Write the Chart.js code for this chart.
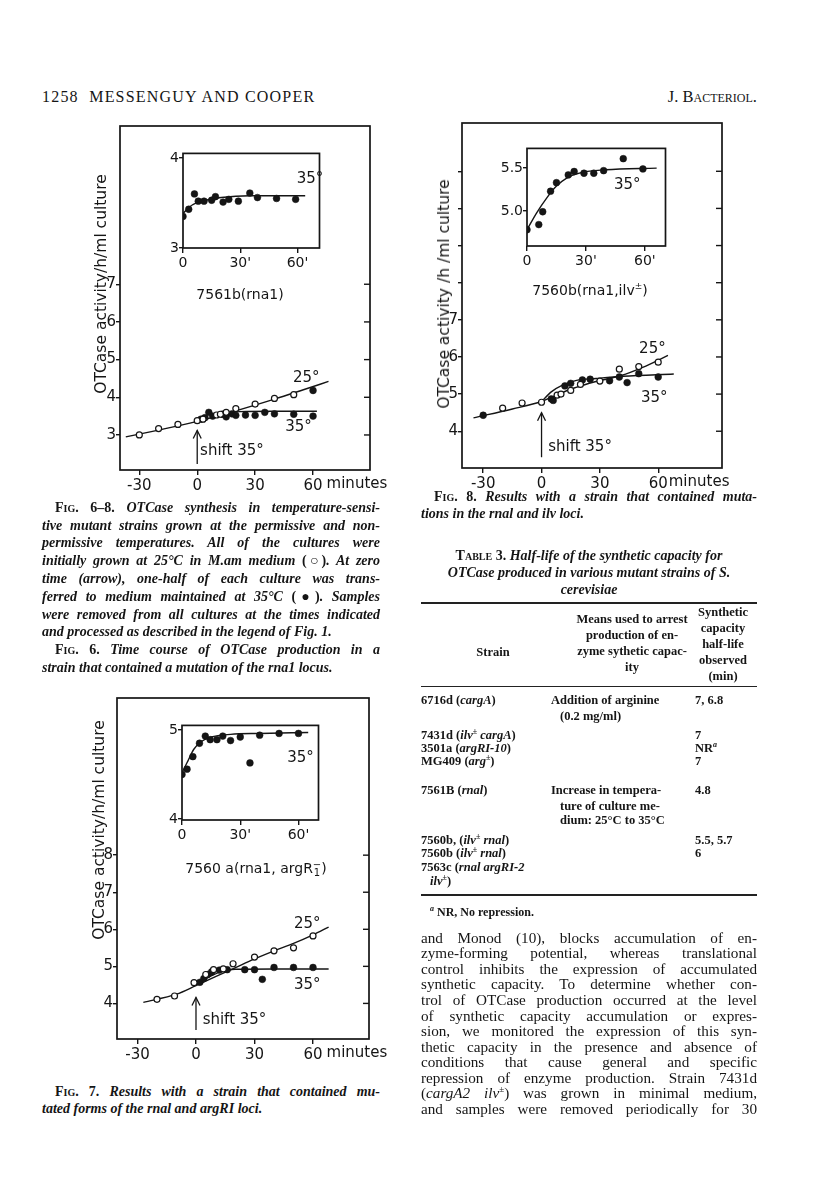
<!DOCTYPE html>
<html>
<head>
<meta charset="utf-8">
<script src="https://cdn.jsdelivr.net/npm/chart.js@4.4.1/dist/chart.umd.min.js"></script>
<style>
  body { margin: 0; background: #fff; }
  #page { position: relative; width: 816px; height: 1203px; overflow: hidden;
          font-family: "Liberation Serif", serif; color: #151515; }
  .ln { position: absolute; height: 16px; line-height: 16px; }
  .j { text-align: justify; text-align-last: justify; }
  .c { text-align: center; }
  .cap { font-style: italic; font-weight: bold; font-size: 14px; }
  .sc { font-variant: small-caps; font-style: normal; }
  .body { font-size: 15.2px; }
  .tb { font-weight: bold; font-size: 12.5px; }
  sup { line-height: 0; font-size: 8px; }
  .rule { position: absolute; left: 421px; width: 336px; background: #222; }
  canvas { position: absolute; }
  .ytitle { position: absolute; font-family: "DejaVu Sans", sans-serif; font-size: 15.5px; white-space: nowrap;
            transform: translate(-50%, -50%) rotate(-90deg); }
  .strain { position: absolute; font-family: "DejaVu Sans", sans-serif; font-size: 14px; white-space: nowrap;
            transform: translate(-50%, -50%); }
  .stk { display: inline-block; vertical-align: middle; line-height: 8px; font-size: 10px; text-align: center; }
</style>
</head>
<body>
<div id="page">

  <!-- running head -->
  <div class="ln" style="left:42px;top:89px;font-size:16px;letter-spacing:1.2px;white-space:nowrap">1258&nbsp;&nbsp;MESSENGUY AND COOPER</div>
  <div class="ln" style="left:557px;width:200px;top:89px;font-size:16.5px;text-align:right"><span class="sc">J. Bacteriol.</span></div>

  <!-- figures -->
  <canvas id="fig6"></canvas>
  <canvas id="fig6in"></canvas>
  <canvas id="fig8"></canvas>
  <canvas id="fig8in"></canvas>
  <canvas id="fig7"></canvas>
  <canvas id="fig7in"></canvas>

  <div class="ytitle" style="left:101px;top:284px">OTCase activity/h/ml culture</div>
  <div class="ytitle" style="left:444px;top:294px">OTCase activity /h /ml culture</div>
  <div class="ytitle" style="left:99px;top:830px">OTCase activity/h/ml culture</div>

  <div class="strain" style="left:240px;top:294px">7561b(rna1)</div>
  <div class="strain" style="left:590px;top:290px">7560b(rna1,ilv<sup style="font-size:9px">±</sup>)</div>
  <div class="strain" style="left:256px;top:868px">7560 a(rna1, argR<span class="stk">−<br>1</span>)</div>

  <!-- legend for Figs. 6-8 -->
  <div class="ln j cap" style="left:55px;width:325px;top:500px"><span class="sc">Fig. 6–8.</span> OTCase synthesis in temperature-sensi-</div>
  <div class="ln j cap" style="left:42px;width:338px;top:518px">tive mutant strains grown at the permissive and non-</div>
  <div class="ln j cap" style="left:42px;width:338px;top:535px">permissive temperatures. All of the cultures were</div>
  <div class="ln j cap" style="left:42px;width:338px;top:553px">initially grown at 25°C in M.am medium <span style="font-style:normal">(○)</span>. At zero</div>
  <div class="ln j cap" style="left:42px;width:338px;top:571px">time (arrow), one-half of each culture was trans-</div>
  <div class="ln j cap" style="left:42px;width:338px;top:589px">ferred to medium maintained at 35°C <span style="font-style:normal">(●)</span>. Samples</div>
  <div class="ln j cap" style="left:42px;width:338px;top:607px">were removed from all cultures at the times indicated</div>
  <div class="ln cap" style="left:42px;width:338px;top:624px">and processed as described in the legend of Fig. 1.</div>
  <div class="ln j cap" style="left:55px;width:325px;top:642px"><span class="sc">Fig. 6.</span> Time course of OTCase production in a</div>
  <div class="ln cap" style="left:42px;width:338px;top:660px">strain that contained a mutation of the rna1 locus.</div>

  <!-- legend Fig. 7 -->
  <div class="ln j cap" style="left:55px;width:325px;top:1084px"><span class="sc">Fig. 7.</span> Results with a strain that contained mu-</div>
  <div class="ln cap" style="left:42px;width:338px;top:1101px">tated forms of the rnal and argRI loci.</div>

  <!-- legend Fig. 8 -->
  <div class="ln j cap" style="left:434px;width:323px;top:489px"><span class="sc">Fig. 8.</span> Results with a strain that contained muta-</div>
  <div class="ln cap" style="left:421px;width:336px;top:506px">tions in the rnal and ilv loci.</div>

  <!-- Table 3 -->
  <div class="ln c cap" style="left:421px;width:336px;top:548px"><span class="sc">Table</span><span style="font-style:normal"> 3. </span>Half-life of the synthetic capacity for</div>
  <div class="ln c cap" style="left:421px;width:336px;top:565px">OTCase produced in various mutant strains of S.</div>
  <div class="ln c cap" style="left:421px;width:336px;top:582px">cerevisiae</div>
  <div class="rule" style="top:602px;height:2px"></div>

  <div class="ln c tb" style="left:688px;width:70px;top:604px">Synthetic</div>
  <div class="ln c tb" style="left:688px;width:70px;top:620px">capacity</div>
  <div class="ln c tb" style="left:688px;width:70px;top:636px">half-life</div>
  <div class="ln c tb" style="left:688px;width:70px;top:652px">observed</div>
  <div class="ln c tb" style="left:688px;width:70px;top:668px">(min)</div>
  <div class="ln c tb" style="left:552px;width:160px;top:611px">Means used to arrest</div>
  <div class="ln c tb" style="left:552px;width:160px;top:627px">production of en-</div>
  <div class="ln c tb" style="left:552px;width:160px;top:643px">zyme sythetic capac-</div>
  <div class="ln c tb" style="left:552px;width:160px;top:659px">ity</div>
  <div class="ln c tb" style="left:433px;width:120px;top:644px">Strain</div>
  <div class="rule" style="top:686px;height:1px"></div>

  <div class="ln tb" style="left:421px;top:692px">6716d (<i>cargA</i>)</div>
  <div class="ln tb" style="left:551px;top:692px">Addition of arginine</div>
  <div class="ln tb" style="left:695px;top:692px">7, 6.8</div>
  <div class="ln tb" style="left:560px;top:708px">(0.2 mg/ml)</div>
  <div class="ln tb" style="left:421px;top:727px">7431d (<i>ilv</i><sup>±</sup> <i>cargA</i>)</div>
  <div class="ln tb" style="left:695px;top:727px">7</div>
  <div class="ln tb" style="left:421px;top:740px">3501a (<i>argRI-10</i>)</div>
  <div class="ln tb" style="left:695px;top:740px">NR<sup style="font-style:italic">a</sup></div>
  <div class="ln tb" style="left:421px;top:753px">MG409 (<i>arg</i><sup>±</sup>)</div>
  <div class="ln tb" style="left:695px;top:753px">7</div>
  <div class="ln tb" style="left:421px;top:782px">7561B (<i>rnal</i>)</div>
  <div class="ln tb" style="left:551px;top:782px">Increase in tempera-</div>
  <div class="ln tb" style="left:695px;top:782px">4.8</div>
  <div class="ln tb" style="left:560px;top:798px">ture of culture me-</div>
  <div class="ln tb" style="left:560px;top:812px">dium: 25°C to 35°C</div>
  <div class="ln tb" style="left:421px;top:832px">7560b, (<i>ilv</i><sup>±</sup> <i>rnal</i>)</div>
  <div class="ln tb" style="left:695px;top:832px">5.5, 5.7</div>
  <div class="ln tb" style="left:421px;top:845px">7560b (<i>ilv</i><sup>±</sup> <i>rnal</i>)</div>
  <div class="ln tb" style="left:695px;top:845px">6</div>
  <div class="ln tb" style="left:421px;top:859px">7563c (<i>rnal argRI-2</i></div>
  <div class="ln tb" style="left:430px;top:873px"><i>ilv</i><sup>±</sup>)</div>
  <div class="rule" style="top:894px;height:2px"></div>
  <div class="ln tb" style="left:430px;top:904px;font-size:12px"><sup style="font-style:italic">a</sup> NR, No repression.</div>

  <!-- body text -->
  <div class="ln j body" style="left:421px;width:336px;top:930px">and Monod (10), blocks accumulation of en-</div>
  <div class="ln j body" style="left:421px;width:336px;top:945px">zyme-forming potential, whereas translational</div>
  <div class="ln j body" style="left:421px;width:336px;top:961px">control inhibits the expression of accumulated</div>
  <div class="ln j body" style="left:421px;width:336px;top:976px">synthetic capacity. To determine whether con-</div>
  <div class="ln j body" style="left:421px;width:336px;top:992px">trol of OTCase production occurred at the level</div>
  <div class="ln j body" style="left:421px;width:336px;top:1008px">of synthetic capacity accumulation or expres-</div>
  <div class="ln j body" style="left:421px;width:336px;top:1023px">sion, we monitored the expression of this syn-</div>
  <div class="ln j body" style="left:421px;width:336px;top:1039px">thetic capacity in the presence and absence of</div>
  <div class="ln j body" style="left:421px;width:336px;top:1054px">conditions that cause general and specific</div>
  <div class="ln j body" style="left:421px;width:336px;top:1070px">repression of enzyme production. Strain 7431d</div>
  <div class="ln j body" style="left:421px;width:336px;top:1085px">(<i>cargA2 ilv</i><sup style="font-size:9px">±</sup>) was grown in minimal medium,</div>
  <div class="ln j body" style="left:421px;width:336px;top:1101px">and samples were removed periodically for 30</div>
</div>

<script>
// ---------------- data (minutes, OTCase units) ----------------
// Fig. 6, 7561b(rna1)
const f6Open25 = [[-30, 3.0], [-20, 3.17], [-10, 3.28], [0, 3.38], [3, 3.42], [10, 3.53], [12, 3.55], [15, 3.6], [20, 3.7], [30, 3.82], [40, 3.97], [50, 4.07]];
const f6Dots35 = [[2, 3.42], [4, 3.46], [6, 3.6], [8, 3.5], [13, 3.55], [15, 3.48], [18, 3.56], [20, 3.52], [25, 3.53], [30, 3.52], [35, 3.6], [40, 3.56], [50, 3.55], [60, 3.5], [60, 4.18]];
const f6Fit25 = [[-37, 2.95], [-20, 3.13], [0, 3.36], [20, 3.64], [40, 3.95], [55, 4.2], [68, 4.42]];
const f6Fit35 = [[12, 3.57], [22, 3.62], [40, 3.63], [62, 3.63]];
const f6InDots = [[0, 3.35], [3, 3.43], [6, 3.6], [8, 3.52], [11, 3.52], [15, 3.53], [17, 3.57], [21, 3.51], [24, 3.54], [29, 3.52], [35, 3.61], [39, 3.56], [49, 3.55], [59, 3.54]];
const f6InFit = [[0, 3.38], [3, 3.45], [7, 3.5], [12, 3.53], [20, 3.56], [35, 3.58], [64, 3.58]];

// Fig. 8, 7560b(rna1, ilv)
const f8Open25 = [[-20, 4.62], [-10, 4.76], [0, 4.78], [8, 4.97], [10, 5.0], [15, 5.1], [20, 5.26], [30, 5.35], [40, 5.67], [50, 5.74], [60, 5.86]];
const f8Dots35 = [[-30, 4.43], [5, 4.87], [6, 4.83], [12, 5.22], [15, 5.29], [21, 5.38], [25, 5.4], [35, 5.36], [40, 5.46], [44, 5.31], [50, 5.55], [60, 5.46]];
const f8Fit25 = [[-35, 4.36], [-15, 4.6], [0, 4.8], [7, 4.96], [16, 5.15], [28, 5.34], [41, 5.5], [52, 5.72], [65, 6.04]];
const f8Fit35 = [[0, 4.8], [5, 5.06], [11, 5.25], [18, 5.37], [28, 5.42], [42, 5.48], [68, 5.54]];
const f8InDots = [[0, 4.78], [6, 4.84], [8, 4.99], [12, 5.23], [15, 5.33], [21, 5.42], [24, 5.46], [29, 5.44], [34, 5.44], [39, 5.47], [49, 5.61], [59, 5.49]];
const f8InFit = [[0, 4.78], [5, 4.98], [10, 5.15], [15, 5.29], [20, 5.38], [28, 5.45], [40, 5.48], [66, 5.5]];

// Fig. 7, 7560a(rna1, argR1-)
const f7Open25 = [[-20, 4.11], [-11, 4.2], [-1, 4.56], [5, 4.78], [9, 4.91], [14, 4.93], [19, 5.07], [30, 5.25], [40, 5.42], [50, 5.5], [60, 5.82]];
const f7Dots35 = [[2, 4.57], [4, 4.67], [6, 4.78], [8, 4.85], [12, 4.9], [16, 4.91], [25, 4.91], [30, 4.91], [34, 4.65], [40, 4.97], [50, 4.97], [60, 4.97]];
const f7Fit25 = [[-27, 4.03], [-10, 4.25], [0, 4.48], [10, 4.72], [20, 4.96], [30, 5.2], [40, 5.42], [50, 5.62], [60, 5.85], [68, 6.06]];
const f7Fit35 = [[0, 4.5], [7, 4.72], [14, 4.88], [20, 4.92], [40, 4.93], [68, 4.93]];
const f7InDots = [[0, 4.5], [2.6, 4.56], [5.6, 4.7], [9, 4.85], [12, 4.93], [14.5, 4.89], [18, 4.89], [21, 4.93], [25, 4.88], [30, 4.92], [35, 4.63], [40, 4.94], [50, 4.96], [60, 4.96]];
const f7InFit = [[0, 4.52], [3, 4.65], [6, 4.78], [10, 4.87], [15, 4.92], [25, 4.95], [40, 4.96], [65, 4.97]];

// tick values
const mainXTicks = [-30, 0, 30, 60];
const insetXTicks = [0, 30, 60];
const f6YTicks = [3, 4, 5, 6, 7];
const f8YTicks = [4, 5, 6, 7, 8, 9, 10, 11];
const f8YLabels = [4, 5, 6, 7];
const f7YTicks = [4, 5, 6, 7, 8];
const f6InYTicks = [3, 4];
const f8InYTicks = [5.0, 5.5];
const f7InYTicks = [4, 5];

const INK = '#151515';
const pts = arr => arr.map(([x, y]) => ({ x, y }));

function openSet(arr) {
  return { data: pts(arr), showLine: false, pointRadius: 3, pointBackgroundColor: '#fff',
           pointBorderColor: INK, pointBorderWidth: 1.2, order: 0 };
}
function dotSet(arr) {
  return { data: pts(arr), showLine: false, pointRadius: 3.4, pointBackgroundColor: INK,
           pointBorderColor: INK, pointBorderWidth: 0.5, order: 0 };
}
function fitSet(arr) {
  return { data: pts(arr), showLine: true, pointRadius: 0, borderColor: INK, borderWidth: 1.4,
           cubicInterpolationMode: 'monotone', fill: false, order: 1 };
}

// box around the plot area plus the small inner ticks on the right border
const framePlugin = {
  id: 'frame',
  afterDraw(chart, args, opts) {
    const { ctx, chartArea: a, scales } = chart;
    ctx.save();
    ctx.strokeStyle = INK;
    ctx.lineWidth = opts.lineWidth || 1.7;
    ctx.strokeRect(a.left, a.top, a.right - a.left, a.bottom - a.top);
    ctx.lineWidth = 1.4;
    (opts.rightTicks || []).forEach(v => {
      const y = scales.y.getPixelForValue(v);
      ctx.beginPath(); ctx.moveTo(a.right - 6, y); ctx.lineTo(a.right, y); ctx.stroke();
    });
    ctx.restore();
  }
};

// temperature labels, shift arrow and the axis unit
const notesPlugin = {
  id: 'notes',
  afterDatasetsDraw(chart, args, opts) {
    const { ctx, scales: { x, y } } = chart;
    ctx.save();
    ctx.fillStyle = INK; ctx.strokeStyle = INK;
    ctx.font = opts.font || '15px "DejaVu Sans"';
    ctx.textBaseline = 'middle';
    (opts.texts || []).forEach(t => {
      ctx.textAlign = t.align || 'center';
      ctx.fillText(t.text, x.getPixelForValue(t.x), y.getPixelForValue(t.y));
    });
    if (opts.arrow) {
      const ax = x.getPixelForValue(opts.arrow.x);
      const y0 = y.getPixelForValue(opts.arrow.from), y1 = y.getPixelForValue(opts.arrow.to);
      ctx.lineWidth = 1.3;
      ctx.beginPath(); ctx.moveTo(ax, y0); ctx.lineTo(ax, y1); ctx.stroke();
      ctx.beginPath(); ctx.moveTo(ax - 4, y1 + 8); ctx.lineTo(ax, y1); ctx.lineTo(ax + 4, y1 + 8); ctx.stroke();
    }
    if (opts.unit) {
      const last = mainXTicks[mainXTicks.length - 1];
      ctx.font = '15px "DejaVu Sans"';
      const w = ctx.measureText(String(last)).width;
      ctx.textAlign = 'left'; ctx.textBaseline = 'top';
      ctx.fillText(opts.unit.text, x.getPixelForValue(last) + w / 2 + opts.unit.gap, x.top + 7);
    }
    ctx.restore();
  }
};

function drawFig(id, box, o) {
  const cv = document.getElementById(id);
  const pt = 3;
  cv.width = o.yw + box.w + o.pr;
  cv.height = pt + box.h + o.xh;
  cv.style.left = (box.l - o.yw) + 'px';
  cv.style.top = (box.t - pt) + 'px';
  const font = { family: '"DejaVu Sans", sans-serif', size: o.fontSize };
  new Chart(cv, {
    type: 'scatter',
    data: { datasets: o.datasets },
    options: {
      responsive: false,
      animation: false,
      events: [],
      layout: { padding: { top: pt, right: o.pr, left: 0, bottom: 0 } },
      plugins: {
        legend: { display: false },
        tooltip: { enabled: false },
        frame: { rightTicks: o.rightTicks },
        notes: o.notes
      },
      scales: {
        x: {
          type: 'linear', min: o.x[0], max: o.x[1],
          afterBuildTicks: s => { s.ticks = o.xTicks.map(v => ({ value: v })); },
          afterFit: s => { s.height = o.xh; },
          grid: { drawOnChartArea: false, drawTicks: true, tickLength: 5, color: INK, lineWidth: 1.4 },
          border: { display: false },
          ticks: { color: INK, font, padding: 2, maxRotation: 0, autoSkip: false, callback: o.xFmt }
        },
        y: {
          type: 'linear', min: o.y[0], max: o.y[1],
          afterBuildTicks: s => { s.ticks = o.yTicks.map(v => ({ value: v })); },
          afterFit: s => { s.width = o.yw; },
          grid: { drawOnChartArea: false, drawTicks: true, tickLength: 4, color: INK, lineWidth: 1.4 },
          border: { display: false },
          ticks: { color: INK, font, padding: 0, autoSkip: false, callback: o.yFmt }
        }
      }
    },
    plugins: [framePlugin, notesPlugin]
  });
}

const mainFmt = v => String(v);
const insetFmt = v => (v === 0 ? '0' : v + "'");

// ---- Fig. 6 ----
drawFig('fig6', { l: 120, t: 120, w: 250, h: 350 }, {
  x: [-40, 89.5], y: [2.07, 11.2], xTicks: mainXTicks, yTicks: f6YTicks,
  xFmt: mainFmt, yFmt: mainFmt, yw: 30, xh: 28, pr: 60, fontSize: 15, rightTicks: f6YTicks,
  datasets: [openSet(f6Open25), dotSet(f6Dots35), fitSet(f6Fit25), fitSet(f6Fit35)],
  notes: {
    texts: [{ text: '25°', x: 56.5, y: 4.5 }, { text: '35°', x: 52.5, y: 3.22 },
            { text: 'shift 35°', x: 1.5, y: 2.58, align: 'left' }],
    arrow: { x: 0, from: 2.23, to: 3.12 },
    unit: { text: 'minutes', gap: 4 }
  }
});
drawFig('fig6in', { l: 183, t: 148, w: 137, h: 100 }, {
  x: [0, 71.5], y: [3, 4.05], xTicks: insetXTicks, yTicks: f6InYTicks,
  xFmt: insetFmt, yFmt: mainFmt, yw: 18, xh: 24, pr: 4, fontSize: 14,
  datasets: [dotSet(f6InDots), fitSet(f6InFit)],
  notes: { texts: [{ text: '35°', x: 66.5, y: 3.76 }] }
});

// ---- Fig. 8 ----
drawFig('fig8', { l: 462, t: 117, w: 260, h: 351 }, {
  x: [-40.9, 92.8], y: [3.01, 12.3], xTicks: mainXTicks, yTicks: f8YTicks,
  xFmt: mainFmt, yFmt: v => (f8YLabels.includes(v) ? String(v) : ''), yw: 30, xh: 28, pr: 40,
  fontSize: 15, rightTicks: f8YTicks,
  datasets: [openSet(f8Open25), dotSet(f8Dots35), fitSet(f8Fit25), fitSet(f8Fit35)],
  notes: {
    texts: [{ text: '25°', x: 57, y: 6.2 }, { text: '35°', x: 58, y: 4.9 },
            { text: 'shift 35°', x: 3.4, y: 3.56, align: 'left' }],
    arrow: { x: 0, from: 3.3, to: 4.5 },
    unit: { text: 'minutes', gap: 1 }
  }
});
drawFig('fig8in', { l: 527, t: 143, w: 139, h: 103 }, {
  x: [0, 70.5], y: [4.59, 5.73], xTicks: insetXTicks, yTicks: f8InYTicks,
  xFmt: insetFmt, yFmt: v => v.toFixed(1), yw: 28, xh: 24, pr: 4, fontSize: 14,
  datasets: [dotSet(f8InDots), fitSet(f8InFit)],
  notes: { texts: [{ text: '35°', x: 51, y: 5.3 }] }
});

// ---- Fig. 7 ----
drawFig('fig7', { l: 117, t: 692, w: 252, h: 347 }, {
  x: [-40.5, 88.7], y: [3.04, 12.24], xTicks: mainXTicks, yTicks: f7YTicks,
  xFmt: mainFmt, yFmt: mainFmt, yw: 30, xh: 28, pr: 60, fontSize: 15, rightTicks: f7YTicks,
  datasets: [openSet(f7Open25), dotSet(f7Dots35), fitSet(f7Fit25), fitSet(f7Fit35)],
  notes: {
    texts: [{ text: '25°', x: 57, y: 6.15 }, { text: '35°', x: 57, y: 4.5 },
            { text: 'shift 35°', x: 3.4, y: 3.54, align: 'left' }],
    arrow: { x: 0, from: 3.28, to: 4.16 },
    unit: { text: 'minutes', gap: 4 }
  }
});
drawFig('fig7in', { l: 182, t: 720, w: 137, h: 100 }, {
  x: [0, 70.3], y: [3.99, 5.05], xTicks: insetXTicks, yTicks: f7InYTicks,
  xFmt: insetFmt, yFmt: mainFmt, yw: 18, xh: 24, pr: 4, fontSize: 14,
  datasets: [dotSet(f7InDots), fitSet(f7InFit)],
  notes: { texts: [{ text: '35°', x: 61, y: 4.68 }] }
});

// shrink any text line that would wrap, so each printed line stays on one row
document.querySelectorAll('.ln').forEach(el => {
  let size = parseFloat(getComputedStyle(el).fontSize);
  while (el.scrollHeight > el.clientHeight + 8 && size > 8) {
    size -= 0.25;
    el.style.fontSize = size + 'px';
  }
});
</script>
</body>
</html>
